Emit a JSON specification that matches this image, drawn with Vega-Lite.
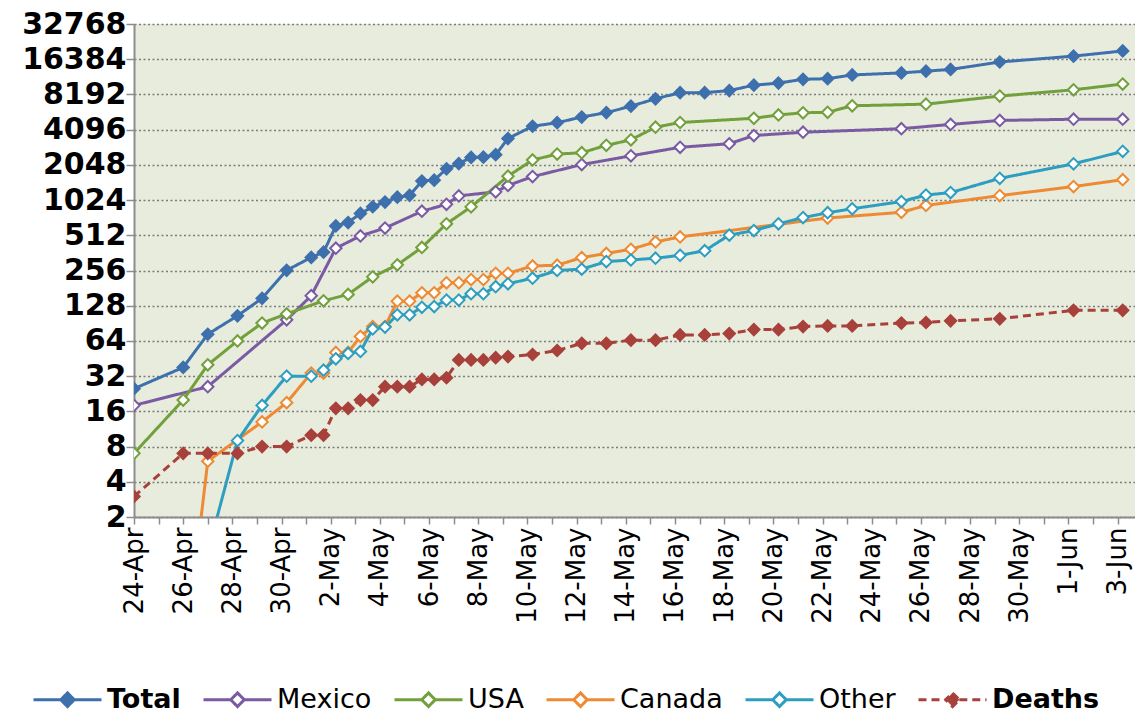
{
  "$schema": "https://vega.github.io/schema/vega-lite/v6.json",
  "width": 1001,
  "height": 493,
  "autosize": {"type": "none"},
  "padding": {"left": 134, "top": 24, "right": 0, "bottom": 196},
  "background": "white",
  "config": {
    "view": {"fill": "#E8ECDC", "stroke": null},
    "font": "DejaVu Sans",
    "legend": {
      "title": null,
      "orient": "none",
      "legendX": -102,
      "legendY": 640,
      "direction": "horizontal",
      "columns": 6,
      "columnPadding": 16,
      "symbolType": "M-1,0H-0.2M0.2,0H1M0,-0.2L0.2,0L0,0.2L-0.2,0Z",
      "symbolSize": 4624,
      "symbolStrokeWidth": 3,
      "labelFont": "DejaVu Sans",
      "labelFontSize": 27,
      "labelColor": "#000000",
      "labelOffset": 4,
      "labelLimit": 0
    }
  },
  "data": {
    "values": [
      {"date": "2009-04-24T00:00", "series": "Total", "value": 25},
      {"date": "2009-04-26T00:00", "series": "Total", "value": 38},
      {"date": "2009-04-27T00:00", "series": "Total", "value": 73},
      {"date": "2009-04-28T05:00", "series": "Total", "value": 105},
      {"date": "2009-04-29T05:00", "series": "Total", "value": 148},
      {"date": "2009-04-30T05:00", "series": "Total", "value": 257},
      {"date": "2009-05-01T05:00", "series": "Total", "value": 331},
      {"date": "2009-05-01T17:00", "series": "Total", "value": 367},
      {"date": "2009-05-02T05:00", "series": "Total", "value": 615},
      {"date": "2009-05-02T17:00", "series": "Total", "value": 658},
      {"date": "2009-05-03T05:00", "series": "Total", "value": 787},
      {"date": "2009-05-03T17:00", "series": "Total", "value": 898},
      {"date": "2009-05-04T05:00", "series": "Total", "value": 985},
      {"date": "2009-05-04T17:00", "series": "Total", "value": 1085},
      {"date": "2009-05-05T05:00", "series": "Total", "value": 1124},
      {"date": "2009-05-05T17:00", "series": "Total", "value": 1490},
      {"date": "2009-05-06T05:00", "series": "Total", "value": 1516},
      {"date": "2009-05-06T17:00", "series": "Total", "value": 1893},
      {"date": "2009-05-07T05:00", "series": "Total", "value": 2099},
      {"date": "2009-05-07T17:00", "series": "Total", "value": 2371},
      {"date": "2009-05-08T05:00", "series": "Total", "value": 2384},
      {"date": "2009-05-08T17:00", "series": "Total", "value": 2500},
      {"date": "2009-05-09T05:00", "series": "Total", "value": 3440},
      {"date": "2009-05-10T05:00", "series": "Total", "value": 4379},
      {"date": "2009-05-11T05:00", "series": "Total", "value": 4694},
      {"date": "2009-05-12T05:00", "series": "Total", "value": 5251},
      {"date": "2009-05-13T05:00", "series": "Total", "value": 5728},
      {"date": "2009-05-14T05:00", "series": "Total", "value": 6497},
      {"date": "2009-05-15T05:00", "series": "Total", "value": 7520},
      {"date": "2009-05-16T05:00", "series": "Total", "value": 8480},
      {"date": "2009-05-17T05:00", "series": "Total", "value": 8480},
      {"date": "2009-05-18T05:00", "series": "Total", "value": 8829},
      {"date": "2009-05-19T05:00", "series": "Total", "value": 9830},
      {"date": "2009-05-20T05:00", "series": "Total", "value": 10243},
      {"date": "2009-05-21T05:00", "series": "Total", "value": 11034},
      {"date": "2009-05-22T05:00", "series": "Total", "value": 11168},
      {"date": "2009-05-23T05:00", "series": "Total", "value": 12022},
      {"date": "2009-05-25T05:00", "series": "Total", "value": 12515},
      {"date": "2009-05-26T05:00", "series": "Total", "value": 12954},
      {"date": "2009-05-27T05:00", "series": "Total", "value": 13398},
      {"date": "2009-05-29T05:00", "series": "Total", "value": 15510},
      {"date": "2009-06-01T05:00", "series": "Total", "value": 17410},
      {"date": "2009-06-03T05:00", "series": "Total", "value": 19273},

      {"date": "2009-04-24T00:00", "series": "Mexico", "value": 18},
      {"date": "2009-04-27T00:00", "series": "Mexico", "value": 26},
      {"date": "2009-04-30T05:00", "series": "Mexico", "value": 97},
      {"date": "2009-05-01T05:00", "series": "Mexico", "value": 156},
      {"date": "2009-05-02T05:00", "series": "Mexico", "value": 397},
      {"date": "2009-05-03T05:00", "series": "Mexico", "value": 506},
      {"date": "2009-05-04T05:00", "series": "Mexico", "value": 590},
      {"date": "2009-05-05T17:00", "series": "Mexico", "value": 822},
      {"date": "2009-05-06T17:00", "series": "Mexico", "value": 942},
      {"date": "2009-05-07T05:00", "series": "Mexico", "value": 1112},
      {"date": "2009-05-08T17:00", "series": "Mexico", "value": 1204},
      {"date": "2009-05-09T05:00", "series": "Mexico", "value": 1364},
      {"date": "2009-05-10T05:00", "series": "Mexico", "value": 1626},
      {"date": "2009-05-12T05:00", "series": "Mexico", "value": 2059},
      {"date": "2009-05-14T05:00", "series": "Mexico", "value": 2446},
      {"date": "2009-05-16T05:00", "series": "Mexico", "value": 2895},
      {"date": "2009-05-18T05:00", "series": "Mexico", "value": 3103},
      {"date": "2009-05-19T05:00", "series": "Mexico", "value": 3648},
      {"date": "2009-05-21T05:00", "series": "Mexico", "value": 3892},
      {"date": "2009-05-25T05:00", "series": "Mexico", "value": 4174},
      {"date": "2009-05-27T05:00", "series": "Mexico", "value": 4541},
      {"date": "2009-05-29T05:00", "series": "Mexico", "value": 4910},
      {"date": "2009-06-01T05:00", "series": "Mexico", "value": 5029},
      {"date": "2009-06-03T05:00", "series": "Mexico", "value": 5029},

      {"date": "2009-04-24T00:00", "series": "USA", "value": 7},
      {"date": "2009-04-26T00:00", "series": "USA", "value": 20},
      {"date": "2009-04-27T00:00", "series": "USA", "value": 40},
      {"date": "2009-04-28T05:00", "series": "USA", "value": 64},
      {"date": "2009-04-29T05:00", "series": "USA", "value": 91},
      {"date": "2009-04-30T05:00", "series": "USA", "value": 109},
      {"date": "2009-05-01T17:00", "series": "USA", "value": 141},
      {"date": "2009-05-02T17:00", "series": "USA", "value": 160},
      {"date": "2009-05-03T17:00", "series": "USA", "value": 226},
      {"date": "2009-05-04T17:00", "series": "USA", "value": 286},
      {"date": "2009-05-05T17:00", "series": "USA", "value": 403},
      {"date": "2009-05-06T17:00", "series": "USA", "value": 642},
      {"date": "2009-05-07T17:00", "series": "USA", "value": 896},
      {"date": "2009-05-09T05:00", "series": "USA", "value": 1639},
      {"date": "2009-05-10T05:00", "series": "USA", "value": 2254},
      {"date": "2009-05-11T05:00", "series": "USA", "value": 2532},
      {"date": "2009-05-12T05:00", "series": "USA", "value": 2600},
      {"date": "2009-05-13T05:00", "series": "USA", "value": 3009},
      {"date": "2009-05-14T05:00", "series": "USA", "value": 3352},
      {"date": "2009-05-15T05:00", "series": "USA", "value": 4298},
      {"date": "2009-05-16T05:00", "series": "USA", "value": 4714},
      {"date": "2009-05-19T05:00", "series": "USA", "value": 5123},
      {"date": "2009-05-20T05:00", "series": "USA", "value": 5469},
      {"date": "2009-05-21T05:00", "series": "USA", "value": 5710},
      {"date": "2009-05-22T05:00", "series": "USA", "value": 5764},
      {"date": "2009-05-23T05:00", "series": "USA", "value": 6552},
      {"date": "2009-05-26T05:00", "series": "USA", "value": 6764},
      {"date": "2009-05-29T05:00", "series": "USA", "value": 7927},
      {"date": "2009-06-01T05:00", "series": "USA", "value": 8975},
      {"date": "2009-06-03T05:00", "series": "USA", "value": 10053},

      {"date": "2009-04-26T00:00", "series": "Canada", "value": 0.1},
      {"date": "2009-04-27T00:00", "series": "Canada", "value": 6},
      {"date": "2009-04-29T05:00", "series": "Canada", "value": 13},
      {"date": "2009-04-30T05:00", "series": "Canada", "value": 19},
      {"date": "2009-05-01T05:00", "series": "Canada", "value": 34},
      {"date": "2009-05-01T17:00", "series": "Canada", "value": 34},
      {"date": "2009-05-02T05:00", "series": "Canada", "value": 51},
      {"date": "2009-05-02T17:00", "series": "Canada", "value": 51},
      {"date": "2009-05-03T05:00", "series": "Canada", "value": 70},
      {"date": "2009-05-03T17:00", "series": "Canada", "value": 85},
      {"date": "2009-05-04T05:00", "series": "Canada", "value": 85},
      {"date": "2009-05-04T17:00", "series": "Canada", "value": 140},
      {"date": "2009-05-05T05:00", "series": "Canada", "value": 140},
      {"date": "2009-05-05T17:00", "series": "Canada", "value": 165},
      {"date": "2009-05-06T05:00", "series": "Canada", "value": 165},
      {"date": "2009-05-06T17:00", "series": "Canada", "value": 201},
      {"date": "2009-05-07T05:00", "series": "Canada", "value": 201},
      {"date": "2009-05-07T17:00", "series": "Canada", "value": 214},
      {"date": "2009-05-08T05:00", "series": "Canada", "value": 214},
      {"date": "2009-05-08T17:00", "series": "Canada", "value": 242},
      {"date": "2009-05-09T05:00", "series": "Canada", "value": 242},
      {"date": "2009-05-10T05:00", "series": "Canada", "value": 280},
      {"date": "2009-05-11T05:00", "series": "Canada", "value": 284},
      {"date": "2009-05-12T05:00", "series": "Canada", "value": 330},
      {"date": "2009-05-13T05:00", "series": "Canada", "value": 358},
      {"date": "2009-05-14T05:00", "series": "Canada", "value": 389},
      {"date": "2009-05-15T05:00", "series": "Canada", "value": 449},
      {"date": "2009-05-16T05:00", "series": "Canada", "value": 496},
      {"date": "2009-05-22T05:00", "series": "Canada", "value": 719},
      {"date": "2009-05-25T05:00", "series": "Canada", "value": 805},
      {"date": "2009-05-26T05:00", "series": "Canada", "value": 921},
      {"date": "2009-05-29T05:00", "series": "Canada", "value": 1118},
      {"date": "2009-06-01T05:00", "series": "Canada", "value": 1336},
      {"date": "2009-06-03T05:00", "series": "Canada", "value": 1530},

      {"date": "2009-04-27T00:00", "series": "Other", "value": 1},
      {"date": "2009-04-28T05:00", "series": "Other", "value": 9},
      {"date": "2009-04-29T05:00", "series": "Other", "value": 18},
      {"date": "2009-04-30T05:00", "series": "Other", "value": 32},
      {"date": "2009-05-01T05:00", "series": "Other", "value": 32},
      {"date": "2009-05-01T17:00", "series": "Other", "value": 36},
      {"date": "2009-05-02T05:00", "series": "Other", "value": 45},
      {"date": "2009-05-02T17:00", "series": "Other", "value": 50},
      {"date": "2009-05-03T05:00", "series": "Other", "value": 52},
      {"date": "2009-05-03T17:00", "series": "Other", "value": 81},
      {"date": "2009-05-04T05:00", "series": "Other", "value": 84},
      {"date": "2009-05-04T17:00", "series": "Other", "value": 107},
      {"date": "2009-05-05T05:00", "series": "Other", "value": 107},
      {"date": "2009-05-05T17:00", "series": "Other", "value": 124},
      {"date": "2009-05-06T05:00", "series": "Other", "value": 126},
      {"date": "2009-05-06T17:00", "series": "Other", "value": 143},
      {"date": "2009-05-07T05:00", "series": "Other", "value": 143},
      {"date": "2009-05-07T17:00", "series": "Other", "value": 162},
      {"date": "2009-05-08T05:00", "series": "Other", "value": 162},
      {"date": "2009-05-08T17:00", "series": "Other", "value": 186},
      {"date": "2009-05-09T05:00", "series": "Other", "value": 197},
      {"date": "2009-05-10T05:00", "series": "Other", "value": 220},
      {"date": "2009-05-11T05:00", "series": "Other", "value": 256},
      {"date": "2009-05-12T05:00", "series": "Other", "value": 263},
      {"date": "2009-05-13T05:00", "series": "Other", "value": 305},
      {"date": "2009-05-14T05:00", "series": "Other", "value": 315},
      {"date": "2009-05-15T05:00", "series": "Other", "value": 326},
      {"date": "2009-05-16T05:00", "series": "Other", "value": 345},
      {"date": "2009-05-17T05:00", "series": "Other", "value": 378},
      {"date": "2009-05-18T05:00", "series": "Other", "value": 514},
      {"date": "2009-05-19T05:00", "series": "Other", "value": 562},
      {"date": "2009-05-20T05:00", "series": "Other", "value": 642},
      {"date": "2009-05-21T05:00", "series": "Other", "value": 725},
      {"date": "2009-05-22T05:00", "series": "Other", "value": 798},
      {"date": "2009-05-23T05:00", "series": "Other", "value": 863},
      {"date": "2009-05-25T05:00", "series": "Other", "value": 994},
      {"date": "2009-05-26T05:00", "series": "Other", "value": 1130},
      {"date": "2009-05-27T05:00", "series": "Other", "value": 1187},
      {"date": "2009-05-29T05:00", "series": "Other", "value": 1570},
      {"date": "2009-06-01T05:00", "series": "Other", "value": 2089},
      {"date": "2009-06-03T05:00", "series": "Other", "value": 2671},

      {"date": "2009-04-24T00:00", "series": "Deaths", "value": 3},
      {"date": "2009-04-26T00:00", "series": "Deaths", "value": 7},
      {"date": "2009-04-27T00:00", "series": "Deaths", "value": 7},
      {"date": "2009-04-28T05:00", "series": "Deaths", "value": 7},
      {"date": "2009-04-29T05:00", "series": "Deaths", "value": 8},
      {"date": "2009-04-30T05:00", "series": "Deaths", "value": 8},
      {"date": "2009-05-01T05:00", "series": "Deaths", "value": 10},
      {"date": "2009-05-01T17:00", "series": "Deaths", "value": 10},
      {"date": "2009-05-02T05:00", "series": "Deaths", "value": 17},
      {"date": "2009-05-02T17:00", "series": "Deaths", "value": 17},
      {"date": "2009-05-03T05:00", "series": "Deaths", "value": 20},
      {"date": "2009-05-03T17:00", "series": "Deaths", "value": 20},
      {"date": "2009-05-04T05:00", "series": "Deaths", "value": 26},
      {"date": "2009-05-04T17:00", "series": "Deaths", "value": 26},
      {"date": "2009-05-05T05:00", "series": "Deaths", "value": 26},
      {"date": "2009-05-05T17:00", "series": "Deaths", "value": 30},
      {"date": "2009-05-06T05:00", "series": "Deaths", "value": 30},
      {"date": "2009-05-06T17:00", "series": "Deaths", "value": 31},
      {"date": "2009-05-07T05:00", "series": "Deaths", "value": 44},
      {"date": "2009-05-07T17:00", "series": "Deaths", "value": 44},
      {"date": "2009-05-08T05:00", "series": "Deaths", "value": 44},
      {"date": "2009-05-08T17:00", "series": "Deaths", "value": 46},
      {"date": "2009-05-09T05:00", "series": "Deaths", "value": 47},
      {"date": "2009-05-10T05:00", "series": "Deaths", "value": 49},
      {"date": "2009-05-11T05:00", "series": "Deaths", "value": 53},
      {"date": "2009-05-12T05:00", "series": "Deaths", "value": 61},
      {"date": "2009-05-13T05:00", "series": "Deaths", "value": 61},
      {"date": "2009-05-14T05:00", "series": "Deaths", "value": 65},
      {"date": "2009-05-15T05:00", "series": "Deaths", "value": 65},
      {"date": "2009-05-16T05:00", "series": "Deaths", "value": 72},
      {"date": "2009-05-17T05:00", "series": "Deaths", "value": 72},
      {"date": "2009-05-18T05:00", "series": "Deaths", "value": 74},
      {"date": "2009-05-19T05:00", "series": "Deaths", "value": 80},
      {"date": "2009-05-20T05:00", "series": "Deaths", "value": 80},
      {"date": "2009-05-21T05:00", "series": "Deaths", "value": 85},
      {"date": "2009-05-22T05:00", "series": "Deaths", "value": 86},
      {"date": "2009-05-23T05:00", "series": "Deaths", "value": 86},
      {"date": "2009-05-25T05:00", "series": "Deaths", "value": 91},
      {"date": "2009-05-26T05:00", "series": "Deaths", "value": 92},
      {"date": "2009-05-27T05:00", "series": "Deaths", "value": 95},
      {"date": "2009-05-29T05:00", "series": "Deaths", "value": 99},
      {"date": "2009-06-01T05:00", "series": "Deaths", "value": 117},
      {"date": "2009-06-03T05:00", "series": "Deaths", "value": 117}
    ]
  },
  "encoding": {
    "x": {
      "field": "date",
      "type": "temporal",
      "scale": {
        "domain": [
          {"year": 2009, "month": 4, "date": 24},
          {"year": 2009, "month": 6, "date": 3, "hours": 17}
        ],
        "nice": false
      },
      "axis": {
        "title": null,
        "grid": false,
        "tickCount": {"interval": "day", "step": 1},
        "labelExpr": "round((datum.value - datetime(2009, 3, 24)) / 86400000) % 2 == 0 ? timeFormat(datum.value, '%-d-%b') : ''",
        "labelAngle": 270,
        "labelAlign": "right",
        "labelBaseline": "middle",
        "labelFont": "DejaVu Sans",
        "labelFontSize": 26,
        "labelColor": "#000000",
        "labelPadding": 3,
        "labelOverlap": false,
        "labelFlush": false,
        "labelBound": false,
        "tickSize": 7,
        "tickColor": "#8C8C8C",
        "tickWidth": 1.5,
        "domainColor": "#8C8C8C",
        "domainWidth": 2
      }
    },
    "y": {
      "field": "value",
      "type": "quantitative",
      "scale": {"type": "log", "base": 2, "domain": [2, 32768], "nice": false},
      "axis": {
        "title": null,
        "values": [2, 4, 8, 16, 32, 64, 128, 256, 512, 1024, 2048, 4096, 8192, 16384, 32768],
        "format": "d",
        "labelFont": "DejaVu Sans",
        "labelFontSize": 30,
        "labelFontWeight": "bold",
        "labelColor": "#000000",
        "labelPadding": 0,
        "labelOverlap": false,
        "labelFlush": false,
        "tickSize": 8,
        "tickColor": "#8C8C8C",
        "tickWidth": 1.5,
        "domainColor": "#8C8C8C",
        "domainWidth": 2,
        "grid": true,
        "gridColor": "#7A7A7A",
        "gridDash": [2, 2.5],
        "gridWidth": 1.3
      }
    }
  },
  "layer": [
    {
      "mark": {"type": "line", "strokeWidth": 3, "clip": true},
      "encoding": {
        "stroke": {
          "field": "series",
          "type": "nominal",
          "scale": {
            "domain": ["Total", "Mexico", "USA", "Canada", "Other", "Deaths"],
            "range": ["#3D70AC", "#7A5AA3", "#72A03C", "#EE8A33", "#2E9EC0", "#A8413B"]
          },
          "legend": {
            "labelFontWeight": {"expr": "datum.value === 'Total' || datum.value === 'Deaths' ? 'bold' : 'normal'"}
          }
        },
        "strokeDash": {
          "field": "series",
          "type": "nominal",
          "scale": {
            "domain": ["Total", "Mexico", "USA", "Canada", "Other", "Deaths"],
            "range": [[1, 0], [1, 0], [1, 0], [1, 0], [1, 0], [8, 5]]
          },
          "legend": {
            "labelFontWeight": {"expr": "datum.value === 'Total' || datum.value === 'Deaths' ? 'bold' : 'normal'"}
          }
        }
      }
    },
    {
      "mark": {"type": "point", "shape": "diamond", "filled": true, "size": 130, "strokeWidth": 2, "opacity": 1, "clip": true},
      "encoding": {
        "stroke": {
          "field": "series",
          "type": "nominal",
          "scale": {
            "domain": ["Total", "Mexico", "USA", "Canada", "Other", "Deaths"],
            "range": ["#3D70AC", "#7A5AA3", "#72A03C", "#EE8A33", "#2E9EC0", "#A8413B"]
          }
        },
        "fill": {
          "field": "series",
          "type": "nominal",
          "scale": {
            "domain": ["Total", "Mexico", "USA", "Canada", "Other", "Deaths"],
            "range": ["#3D70AC", "#FFFFFF", "#FFFFFF", "#FFFFFF", "#FFFFFF", "#A8413B"]
          },
          "legend": {
            "labelFontWeight": {"expr": "datum.value === 'Total' || datum.value === 'Deaths' ? 'bold' : 'normal'"}
          }
        }
      }
    }
  ]
}
